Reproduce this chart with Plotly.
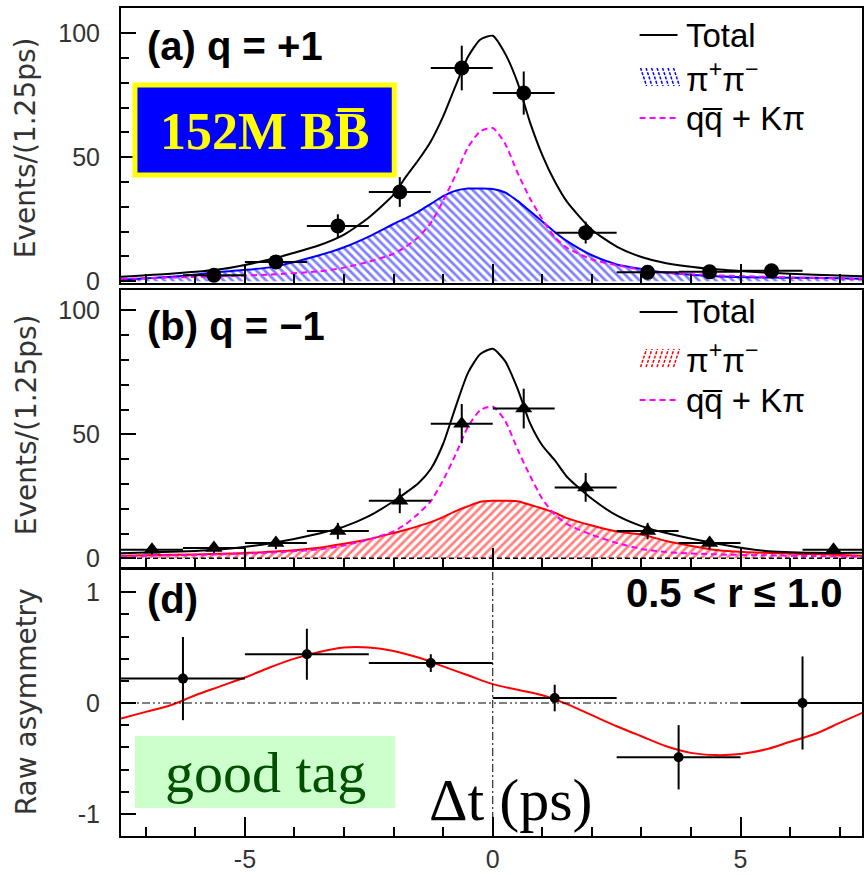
import plotly.graph_objects as go

# ---------------- data ----------------
# panel (a) q = +1 : data points
A_X = [-5.625, -4.375, -3.125, -1.875, -0.625, 0.625, 1.875, 3.125, 4.375, 5.625]
A_Y = [2.4, 7.8, 22.3, 36.0, 86.0, 75.9, 19.6, 3.6, 3.8, 4.2]
A_ERR = [1.6, 2.8, 4.7, 6.0, 9.0, 8.7, 4.4, 1.9, 1.9, 2.0]
# panel (b) q = -1 : data points
B_X = [-6.875, -5.625, -4.375, -3.125, -1.875, -0.625, 0.625, 1.875, 3.125, 4.375, 6.875]
B_Y = [3.5, 4.2, 6.2, 11.0, 23.2, 54.3, 60.4, 28.6, 11.0, 6.2, 3.5]
B_ERR = [1.9, 2.0, 2.5, 3.3, 5.0, 7.9, 8.0, 5.8, 3.3, 2.5, 1.9]
BIN_HALF_AB = 0.625
# panel (d) raw asymmetry
D_X = [-6.25, -3.75, -1.25, 1.25, 3.75, 6.25]
D_Y = [0.22, 0.44, 0.36, 0.045, -0.49, 0.0]
D_ERR = [0.375, 0.23, 0.08, 0.12, 0.29, 0.42]
BIN_HALF_D = 1.25

# fitted curves
CURVE_X = [-7.5, -6.5, -5.5, -4.5, -3.5, -3.0, -2.5, -2.0, -1.75, -1.5, -1.25, -1.0, -0.75,
           -0.5, -0.25, 0.0, 0.25, 0.5, 0.75, 1.0, 1.25, 1.5, 2.0, 2.5, 3.0, 3.5, 4.5, 5.5, 6.5, 7.5]
A_TOTAL = [1.8, 3.0, 4.8, 8.8, 14.5, 18.8, 25.7, 34.9, 42.2, 48.9, 56.4, 66.5, 78.8,
           90.5, 97.5, 99.0, 91.8, 80.2, 64.2, 50.9, 40.3, 32.0, 20.8, 14.0, 9.8, 7.3, 4.8, 3.5, 2.6, 2.0]
A_PIPI = [0.6, 1.8, 3.8, 5.6, 10.5, 13.7, 18.0, 23.1, 25.5, 28.1, 31.2, 34.3, 36.5,
          37.4, 37.4, 37.2, 35.8, 32.4, 28.3, 24.1, 19.9, 16.2, 10.5, 6.8, 5.0, 3.5, 2.0, 1.5, 1.4, 1.0]
A_BKG = [1.0, 1.5, 2.0, 2.7, 4.0, 5.5, 7.9, 11.1, 14.0, 17.8, 23.5, 32.5, 42.8,
         54.0, 60.5, 61.8, 55.5, 43.8, 33.5, 25.0, 17.8, 13.5, 8.8, 6.5, 4.6, 3.4, 2.4, 1.8, 1.3, 1.0]
B_TOTAL = [2.0, 2.6, 3.6, 6.0, 10.0, 12.8, 17.0, 23.0, 26.5, 30.3, 36.0, 46.2, 61.0,
           74.8, 82.4, 84.5, 79.5, 68.4, 54.6, 45.5, 39.6, 32.8, 24.0, 17.3, 13.0, 10.2, 6.0, 3.0, 2.2, 2.2]
B_PIPI = [1.0, 1.4, 1.8, 2.6, 4.3, 5.9, 7.7, 10.2, 11.5, 13.0, 14.6, 16.6, 19.0,
          21.0, 22.8, 23.2, 23.2, 23.0, 21.6, 20.1, 18.4, 16.2, 13.2, 10.8, 9.6, 7.0, 3.4, 2.2, 1.7, 1.0]
B_BKG = [0.8, 1.2, 1.6, 2.3, 3.6, 5.2, 7.6, 10.9, 13.8, 18.0, 23.0, 31.5, 41.8,
         53.0, 59.8, 61.2, 55.5, 44.0, 33.4, 24.0, 17.7, 13.8, 9.5, 6.2, 3.8, 2.5, 1.6, 1.2, 0.9, 0.7]
D_CURVE_X = [-7.5, -7.0, -6.5, -6.0, -5.5, -5.0, -4.5, -4.0, -3.5, -3.0, -2.5, -2.0, -1.5, -1.0,
             -0.5, 0.0, 0.5, 1.0, 1.5, 2.0, 2.5, 3.0, 3.5, 4.0, 4.5, 5.0, 5.5, 6.0, 6.5, 7.0, 7.5]
D_CURVE = [-0.14, -0.08, -0.02, 0.07, 0.15, 0.23, 0.32, 0.40, 0.46, 0.50, 0.50, 0.47, 0.41, 0.33,
           0.25, 0.17, 0.12, 0.07, -0.01, -0.11, -0.21, -0.30, -0.39, -0.45, -0.47, -0.46, -0.42,
           -0.35, -0.28, -0.18, -0.08]

X_RANGE = [-7.5, 7.45]
A_RANGE = [-0.7, 110.2]
B_RANGE = [-3.5, 108.2]
D_RANGE = [-1.2, 1.2]

# ---------------- geometry helpers (layout only) ----------------
W, H = 864, 875
L, R, T, B = 121, 0, 8, 39
PW, PH = W - L - R, H - T - B


def PX(px):
    return (px - L) / PW


def PY(py):
    return (H - B - py) / PH


SANS = "Liberation Sans, Arial, sans-serif"
SERIF = "Liberation Serif, Times New Roman, serif"
LBL = "#333333"

fig = go.Figure()


def add_panel(xa, ya, cx, tot, pipi, bkg, pcol, pshape, px_, py_, perr, symbol):
    fig.add_trace(go.Scatter(
        x=cx, y=pipi, mode="lines", line=dict(color=pcol, width=2, shape="spline", smoothing=0.6),
        fill="tozeroy", fillcolor="rgba(0,0,0,0)",
        fillpattern=dict(shape=pshape, fgcolor=pcol, bgcolor="white", size=6, solidity=0.45),
        xaxis=xa, yaxis=ya, hoverinfo="skip"))
    fig.add_trace(go.Scatter(
        x=cx, y=bkg, mode="lines",
        line=dict(color="#ff00ff", width=2, dash="6px,4px", shape="spline", smoothing=0.6),
        xaxis=xa, yaxis=ya, hoverinfo="skip"))
    fig.add_trace(go.Scatter(
        x=cx, y=tot, mode="lines", line=dict(color="black", width=2, shape="spline", smoothing=0.6),
        xaxis=xa, yaxis=ya, hoverinfo="skip"))
    fig.add_trace(go.Scatter(
        x=px_, y=py_, mode="markers",
        marker=dict(symbol=symbol, size=15, color="black"),
        error_y=dict(type="data", array=perr, color="black", thickness=2, width=0),
        error_x=dict(type="data", array=[BIN_HALF_AB] * len(px_), color="black", thickness=2, width=0),
        xaxis=xa, yaxis=ya))


add_panel("x", "y", CURVE_X, A_TOTAL, A_PIPI, A_BKG, "#0000ff", "\\", A_X, A_Y, A_ERR, "circle")
add_panel("x2", "y2", CURVE_X, B_TOTAL, B_PIPI, B_BKG, "#ff0000", "/", B_X, B_Y, B_ERR, "triangle-up")

fig.add_trace(go.Scatter(
    x=D_CURVE_X, y=D_CURVE, mode="lines", line=dict(color="#ff0000", width=2, shape="spline"),
    xaxis="x3", yaxis="y3", hoverinfo="skip"))
fig.add_trace(go.Scatter(
    x=D_X, y=D_Y, mode="markers", marker=dict(symbol="circle", size=10, color="black"),
    error_y=dict(type="data", array=D_ERR, color="black", thickness=2, width=0),
    error_x=dict(type="data", array=[BIN_HALF_D] * len(D_X), color="black", thickness=2, width=0),
    xaxis="x3", yaxis="y3"))

# ---------------- axes ----------------
dom_a = [PY(283), PY(8)]
dom_b = [PY(567), PY(290)]
dom_d = [PY(836), PY(570)]

xcommon = dict(range=X_RANGE, domain=[0, 1], showgrid=False, zeroline=False,
               showline=True, mirror=True, linecolor="black", linewidth=2,
               ticks="inside", tickmode="array", tickvals=[-5, 0, 5], ticktext=["-5", "0", "5"],
               ticklen=19, tickwidth=1.5, tickcolor="black",
               minor=dict(ticks="inside", dtick=1, tick0=0, ticklen=9, tickwidth=1.5, tickcolor="black"),
               tickfont=dict(family=SANS, size=25, color=LBL))

ycommon = dict(showgrid=False, zeroline=False, showline=True, mirror=True, linecolor="black",
               linewidth=2, ticks="inside", ticklen=15, tickwidth=1.5, tickcolor="black",
               tickfont=dict(family=SANS, size=25, color=LBL), ticklabelstandoff=14)

fig.update_layout(
    width=W, height=H, margin=dict(l=L, r=R, t=T, b=B),
    plot_bgcolor="white", paper_bgcolor="white", showlegend=False,
    xaxis=dict(xcommon, anchor="y", showticklabels=False),
    xaxis2=dict(xcommon, anchor="y2", showticklabels=False),
    xaxis3=dict(xcommon, anchor="y3", showticklabels=True),
    yaxis=dict(ycommon, domain=dom_a, anchor="x", range=A_RANGE, tickmode="array",
               tickvals=[0, 50, 100], ticktext=["0", "50", "100"],
               minor=dict(ticks="inside", dtick=10, tick0=0, ticklen=8, tickwidth=1.5, tickcolor="black")),
    yaxis2=dict(ycommon, domain=dom_b, anchor="x2", range=B_RANGE, tickmode="array",
                tickvals=[0, 50, 100], ticktext=["0", "50", "100"],
                minor=dict(ticks="inside", dtick=10, tick0=0, ticklen=8, tickwidth=1.5, tickcolor="black")),
    yaxis3=dict(ycommon, domain=dom_d, anchor="x3", range=D_RANGE, tickmode="array",
                tickvals=[-1, 0, 1], ticktext=["-1", "0", "1"],
                minor=dict(ticks="inside", dtick=0.2, tick0=0, ticklen=8, tickwidth=1.5, tickcolor="black")),
)

shapes = []
# reference lines in panel (d) and (b)
shapes.append(dict(type="line", xref="x3 domain", yref="y3", x0=0, x1=1, y0=0, y1=0,
                   line=dict(color="black", width=1, dash="8px,3px,2px,3px,2px,3px")))
shapes.append(dict(type="line", xref="x3", yref="y3 domain", x0=0, x1=0, y0=0, y1=1,
                   line=dict(color="black", width=1, dash="8px,3px,2px,3px")))
shapes.append(dict(type="line", xref="x2 domain", yref="y2", x0=0, x1=1, y0=0, y1=0,
                   line=dict(color="black", width=1.5, dash="5px,3px")))

# boxes
shapes.append(dict(type="rect", xref="paper", yref="paper", x0=PX(135), x1=PX(395), y0=PY(175), y1=PY(85),
                   fillcolor="#0000ff", line=dict(color="#ffff00", width=5), layer="above"))
shapes.append(dict(type="rect", xref="paper", yref="paper", x0=PX(135), x1=PX(396), y0=PY(808), y1=PY(736),
                   fillcolor="#ccffcc", line=dict(width=0), layer="above"))


# legend samples
def legend_rows(rows, hcol, hdir):
    y_tot, y_pi, y_bkg = rows
    shapes.append(dict(type="line", xref="paper", yref="paper", x0=PX(641), x1=PX(679),
                       y0=PY(y_tot), y1=PY(y_tot), line=dict(color="black", width=2)))
    shapes.append(dict(type="line", xref="paper", yref="paper", x0=PX(641), x1=PX(679),
                       y0=PY(y_bkg), y1=PY(y_bkg), line=dict(color="#ff00ff", width=2, dash="6px,4px")))
    path = ""
    top, bot = y_pi - 9, y_pi + 9
    for k in range(7):
        xa = 642 + k * 5.5
        if hdir == "\\":
            path += f"M{PX(xa)},{PY(top)} L{PX(xa + 6)},{PY(bot)} "
        else:
            path += f"M{PX(xa)},{PY(bot)} L{PX(xa + 6)},{PY(top)} "
    shapes.append(dict(type="path", xref="paper", yref="paper", path=path,
                       line=dict(color=hcol, width=1.5, dash="3px,1.5px")))


legend_rows((35, 77, 118), "#0000ff", "\\")
legend_rows((312, 358, 400), "#ff0000", "/")
fig.update_layout(shapes=shapes)

ann = []


def text(s, px, py, size, fam=SANS, color="black", xanchor="left", yanchor="middle", angle=0):
    ann.append(dict(text=s, x=PX(px), y=PY(py), xref="paper", yref="paper", showarrow=False,
                    xanchor=xanchor, yanchor=yanchor, textangle=angle,
                    font=dict(family=fam, size=size, color=color)))


text("<b>(a) q = +1</b>", 145, 46, 40)
text("<b>(b) q = \u22121</b>", 145, 326, 40)
text("<b>(d)</b>", 145, 599, 40)
text("<b>0.5 < r \u2264 1.0</b>", 847, 593, 40, xanchor="right")

for (yt, yp, yq) in [(35, 77, 118), (312, 358, 400)]:
    text("Total", 686, yt, 33)
    text("\u03c0<sup>+</sup>\u03c0<sup>\u2212</sup>", 686, yp, 33)
    text("qq\u0305 + K\u03c0", 686, yq, 33)

text("Events/(1.25ps)", 26, 148, 28, fam="DejaVu Sans, sans-serif", color=LBL, xanchor="center", angle=-90)
text("Events/(1.25ps)", 26, 425, 28, fam="DejaVu Sans, sans-serif", color=LBL, xanchor="center", angle=-90)
text("Raw asymmetry", 26, 702, 28, fam="DejaVu Sans, sans-serif", color=LBL, xanchor="center", angle=-90)

text("<b>152M BB\u0305</b>", 265, 131, 52, fam=SERIF, color="#ffff00", xanchor="center")
text("good tag", 266, 772, 58, fam=SERIF, color="#005000", xanchor="center")
text("\u0394t (ps)", 428, 800, 60, fam=SERIF, color="black")

fig.update_layout(annotations=ann)
fig.write_html("out.html")
